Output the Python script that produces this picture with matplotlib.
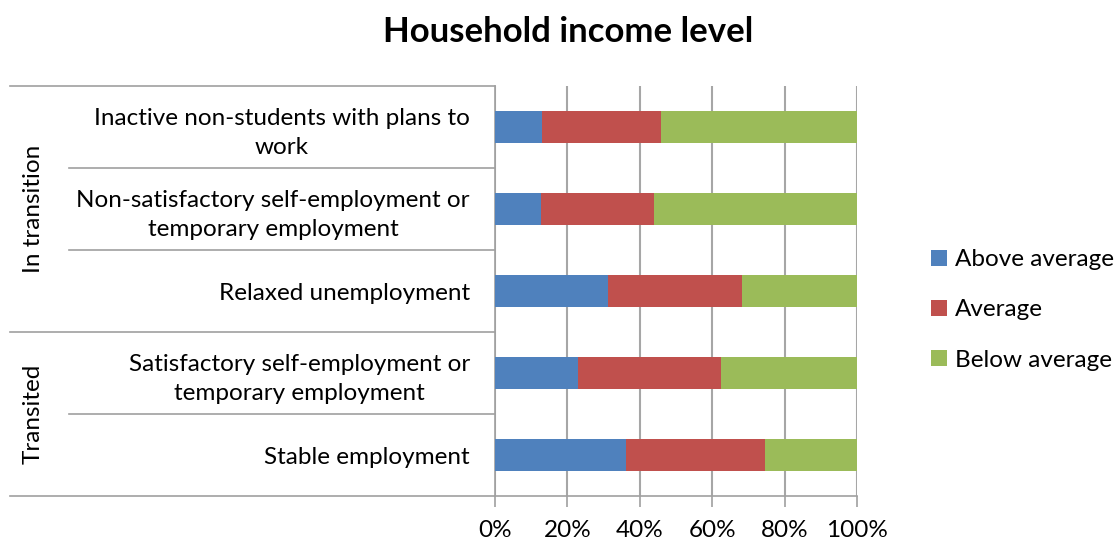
import matplotlib.pyplot as plt
import numpy as np
from matplotlib.lines import Line2D
from matplotlib.transforms import blended_transform_factory

plt.rcParams['font.family'] = ['Lato', 'DejaVu Sans']

categories = ["Inactive non-students with plans to\nwork",
              "Non-satisfactory self-employment or\ntemporary employment",
              "Relaxed unemployment",
              "Satisfactory self-employment or\ntemporary employment",
              "Stable employment"]
groups = ["In transition", "Transited"]
group_sizes = [3, 2]
series = ["Above average", "Average", "Below average"]
above = [12.9, 12.6, 31.1, 22.8, 36.3]
average = [33.0, 31.4, 37.0, 39.6, 38.2]
below = [54.1, 56.0, 31.9, 37.6, 25.5]
colors = ["#4F81BD", "#C0504D", "#9BBB59"]

W, H = 1114, 540
fs = 17.5
fig = plt.figure(figsize=(W / 100, H / 100), dpi=100)
ax = fig.add_axes([495 / W, (H - 496) / H, (857 - 495) / W, (496 - 86) / H])

n = len(categories)
y = np.arange(n)[::-1]
left = np.zeros(n)
for vals, lab, c in zip([above, average, below], series, colors):
    ax.barh(y, vals, left=left, height=0.38, color=c, label=lab, zorder=3)
    left += np.array(vals)

ax.set_xlim(0, 100)
ax.set_ylim(-0.5, n - 0.5)
ax.set_xticks(np.arange(0, 101, 20))
ax.set_xticklabels([f"{v}%" for v in range(0, 101, 20)], fontsize=fs)
ax.set_yticks(y)
ax.set_yticklabels(categories, fontsize=fs, multialignment='center', linespacing=1.45)
ax.tick_params(axis='y', length=0, pad=18)
ax.tick_params(axis='x', length=8, color='#a0a0a0', width=1.2, pad=9)
ax.grid(axis='x', color='#a6a6a6', lw=1.5, zorder=0)
for s in ['top', 'right']:
    ax.spines[s].set_visible(False)
for s in ['left', 'bottom']:
    ax.spines[s].set_color('#a0a0a0')
    ax.spines[s].set_linewidth(1.2)

# group separators
tr = blended_transform_factory(fig.transFigure, ax.transData)
bounds = [n - 0.5, n - 0.5 - group_sizes[0], -0.5]
for b in bounds:
    fig.add_artist(Line2D([10 / W, 495 / W], [b, b], transform=tr, color='#a0a0a0', lw=1.2))
for k in range(n - 1):
    b = k + 0.5
    if b in bounds:
        continue
    fig.add_artist(Line2D([69 / W, 495 / W], [b, b], transform=tr, color='#a0a0a0', lw=1.2))
start = n - 0.5
for g, sz in zip(groups, group_sizes):
    mid = start - sz / 2
    fig.text(33 / W, mid, g, transform=tr, rotation=90, ha='center', va='center', fontsize=fs)
    start -= sz

fig.suptitle("Household income level", x=568 / W, y=1 - 32 / H, va='center',
             fontsize=25, fontweight='bold')

fig.legend(loc='center left', bbox_to_anchor=(909 / W, 1 - 310 / H), frameon=False,
           fontsize=fs, handlelength=0.65, handleheight=0.65, handletextpad=0.35,
           labelspacing=1.2)

fig.savefig("out.png", dpi=100)
